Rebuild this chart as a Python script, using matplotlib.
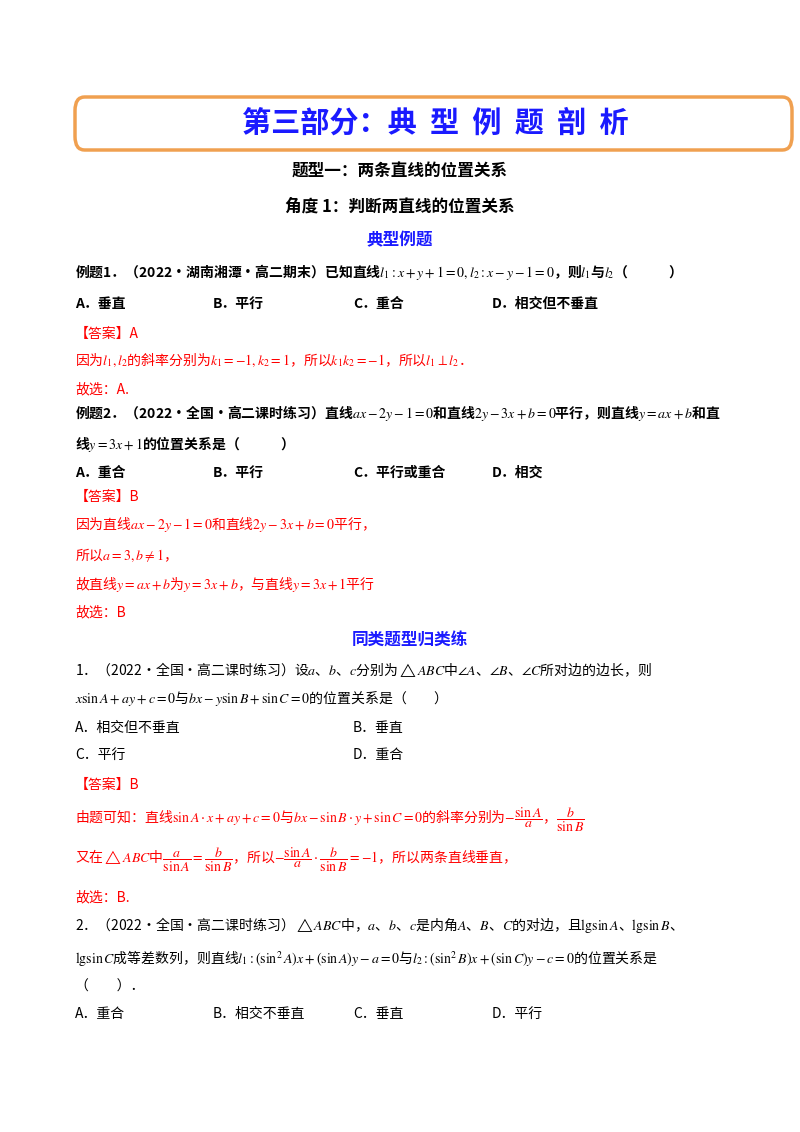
import matplotlib.pyplot as plt
from matplotlib.patches import FancyBboxPatch

plt.rcParams['font.family'] = ['Noto Sans CJK SC', 'DejaVu Sans']
plt.rcParams['mathtext.fontset'] = 'stix'

BLUE = '#1a1aff'
RED = '#ff0000'
BLACK = '#000000'

title = '第三部分：典  型  例  题  剖  析'
headings = [(400, 172, '题型一：两条直线的位置关系', BLACK),
            (400, 207, '角度 1：判断两直线的位置关系', BLACK),
            (400, 240, '典型例题', BLUE),
            (410, 641, '同类题型归类练', BLUE)]

# (x, y, text, color, bold)
lines = [
    (75, 272, '例题1．（2022·湖南湘潭·高二期末）已知直线$l_1:x+y+1=0,l_2:x-y-1=0$，则$l_1$与$l_2$（　　　）', BLACK, True),
    (75, 304, 'A．垂直', BLACK, True), (213, 304, 'B．平行', BLACK, True),
    (353, 304, 'C．重合', BLACK, True), (492, 304, 'D．相交但不垂直', BLACK, True),
    (75, 334, '【答案】A', RED, False),
    (75, 360, r'因为$l_1,l_2$的斜率分别为$k_1=-1,k_2=1$，所以$k_1 k_2=-1$，所以$l_1\perp l_2$．', RED, False),
    (75, 389, '故选：A.', RED, False),
    (75, 413, '例题2．（2022·全国·高二课时练习）直线$ax-2y-1=0$和直线$2y-3x+b=0$平行，则直线$y=ax+b$和直', BLACK, True),
    (75, 444, '线$y=3x+1$的位置关系是（　　　）', BLACK, True),
    (75, 473, 'A．重合', BLACK, True), (213, 473, 'B．平行', BLACK, True),
    (353, 473, 'C．平行或重合', BLACK, True), (492, 473, 'D．相交', BLACK, True),
    (75, 497, '【答案】B', RED, False),
    (75, 524, '因为直线$ax-2y-1=0$和直线$2y-3x+b=0$平行，', RED, False),
    (75, 555, r'所以$a=3,b\neq 1$，', RED, False),
    (75, 584, '故直线$y=ax+b$为$y=3x+b$，与直线$y=3x+1$平行', RED, False),
    (75, 612, '故选：B', RED, False),
    (75, 670, r'1．（2022·全国·高二课时练习）设$a$、$b$、$c$分别为$\triangle ABC$中$\angle A$、$\angle B$、$\angle C$所对边的边长，则', BLACK, False),
    (75, 698, r'$x\sin A+ay+c=0$与$bx-y\sin B+\sin C=0$的位置关系是（　　）', BLACK, False),
    (75, 728, 'A．相交但不垂直', BLACK, False), (353, 728, 'B．垂直', BLACK, False),
    (75, 755, 'C．平行', BLACK, False), (353, 755, 'D．重合', BLACK, False),
    (75, 785, '【答案】B', RED, False),
    (75, 820, r'由题可知：直线$\sin A\cdot x+ay+c=0$与$bx-\sin B\cdot y+\sin C=0$的斜率分别为$-\dfrac{\sin A}{a}$，$\dfrac{b}{\sin B}$', RED, False),
    (75, 860, r'又在$\triangle ABC$中$\dfrac{a}{\sin A}=\dfrac{b}{\sin B}$，所以$-\dfrac{\sin A}{a}\cdot\dfrac{b}{\sin B}=-1$，所以两条直线垂直，', RED, False),
    (75, 897, '故选：B.', RED, False),
    (75, 925, r'2．（2022·全国·高二课时练习）$\triangle ABC$中，$a$、$b$、$c$是内角$A$、$B$、$C$的对边，且$\mathrm{lg}\sin A$、$\mathrm{lg}\sin B$、', BLACK, False),
    (75, 958, r'$\mathrm{lg}\sin C$成等差数列，则直线$l_1:(\sin^2 A)x+(\sin A)y-a=0$与$l_2:(\sin^2 B)x+(\sin C)y-c=0$的位置关系是', BLACK, False),
    (75, 987, '（　　）．', BLACK, False),
    (75, 1014, 'A．重合', BLACK, False), (213, 1014, 'B．相交不垂直', BLACK, False),
    (353, 1014, 'C．垂直', BLACK, False), (492, 1014, 'D．平行', BLACK, False),
]

W, H = 800, 1132
fig = plt.figure(figsize=(W / 100, H / 100), dpi=100)
fig.patch.set_facecolor('white')


def fy(py):
    return 1 - py / H


box = FancyBboxPatch((75 / W, fy(150)), 717 / W, 53 / H,
                     boxstyle='round,pad=0,rounding_size=0.012',
                     transform=fig.transFigure, fill=False,
                     edgecolor='#f0a050', linewidth=2.5)
fig.patches.append(box)
fig.text(435 / W, fy(123), title, color=BLUE, fontsize=21, fontweight='bold',
         ha='center', va='center')

for x, y, t, c in headings:
    fig.text(x / W, fy(y), t, color=c, fontsize=12, fontweight='bold',
             ha='center', va='center')

for x, y, t, c, b in lines:
    fig.text(x / W, fy(y), t, color=c, fontsize=10,
             fontweight='bold' if b else 'normal', ha='left', va='center')

fig.savefig('out.png', dpi=100)
